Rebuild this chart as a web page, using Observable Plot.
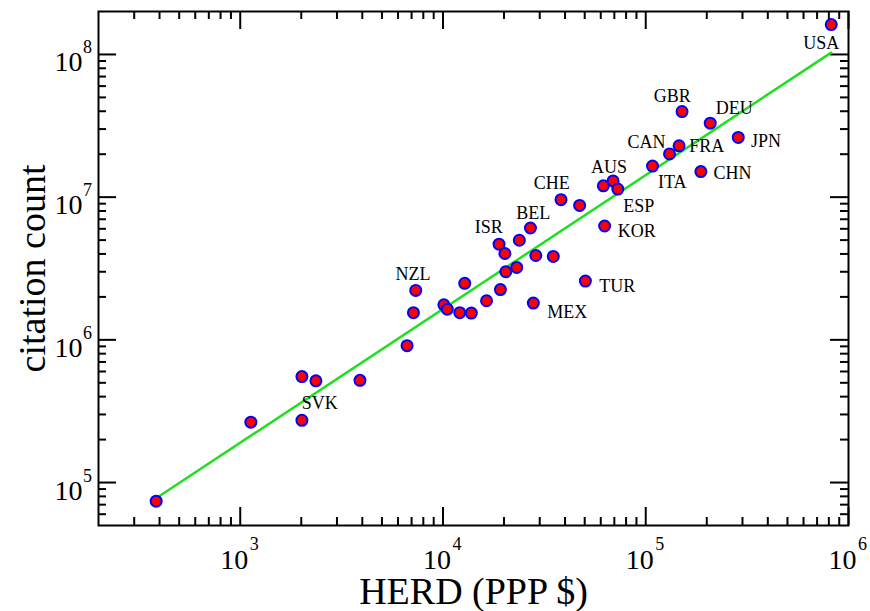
<!DOCTYPE html>
<html>
<head>
<meta charset="utf-8">
<script src="https://cdn.jsdelivr.net/npm/d3@7"></script>
<script src="https://cdn.jsdelivr.net/npm/@observablehq/plot@0.6"></script>
<style>
  html, body { margin: 0; padding: 0; background: #fff; }
  svg { font-family: "Liberation Serif", "Times New Roman", serif; }
</style>
</head>
<body>
<div id="chart"></div>
<script>
// HERD (PPP $) and citation counts, one entry per country
const herd = [385, 1128, 2015, 2015, 2362, 3896, 6650, 7150, 7340, 10100,
  10500, 12100, 13800, 12800, 16400, 19200, 20400, 23100, 20200, 18900,
  23800, 27000, 28700, 35000, 27900, 50400, 38200, 47200, 61800, 69000,
  72800, 62700, 108000, 131000, 146000, 151000, 208000, 286000, 187000, 822000];
const citations = [7.4e4, 2.65e5, 2.73e5, 5.53e5, 5.16e5, 5.2e5, 9.1e5, 1.55e6, 2.22e6, 1.76e6,
  1.64e6, 1.55e6, 1.54e6, 2.49e6, 1.88e6, 2.25e6, 3.0e6, 3.22e6, 4.03e6, 4.68e6,
  4.99e6, 6.08e6, 3.9e6, 3.84e6, 1.81e6, 2.58e6, 9.6e6, 8.75e6, 1.2e7, 1.3e7,
  1.14e7, 6.28e6, 1.65e7, 2.01e7, 2.29e7, 3.98e7, 3.3e7, 2.62e7, 1.51e7, 1.62e8];

// country labels (placed at data coordinates)
const labelNames = ["USA", "GBR", "DEU", "JPN", "FRA", "CAN", "ITA", "CHN", "AUS", "ESP",
  "CHE", "KOR", "BEL", "ISR", "TUR", "MEX", "NZL", "SVK"];
const labelHerd = [7.34e5, 1.35e5, 2.73e5, 3.92e5, 2.0e5, 1.01e5, 1.35e5, 2.68e5, 6.59e4, 9.23e4,
  3.44e4, 9.03e4, 2.79e4, 1.68e4, 7.24e4, 4.1e4, 7.12e3, 2.47e3];
const labelCites = [1.2e8, 5.12e7, 4.2e7, 2.46e7, 2.27e7, 2.42e7, 1.27e7, 1.48e7, 1.62e7, 8.65e6,
  1.26e7, 5.79e6, 7.66e6, 6.15e6, 2.39e6, 1.56e6, 2.89e6, 3.62e5];

// power-law fit line end points
const fitHerd = [385, 822000];
const fitCites = [7.76e4, 1.03e8];

// axis tick values
const xDomain = [200, 1e6];
const yDomain = [5e4, 2e8];
const xMajor = [1e3, 1e4, 1e5, 1e6];
const yMajor = [1e5, 1e6, 1e7, 1e8];
const xExp = ["3", "4", "5", "6"];
const yExp = ["5", "6", "7", "8"];

function minors(lo, hi) {
  const out = [];
  for (let e = Math.floor(Math.log10(lo)); e <= Math.ceil(Math.log10(hi)); e++) {
    for (let m = 2; m <= 9; m++) {
      const v = m * Math.pow(10, e);
      if (v > lo && v < hi) out.push(v);
    }
  }
  return out;
}
const xMinor = minors(xDomain[0], xDomain[1]);
const yMinor = minors(yDomain[0], yDomain[1]);

const points = herd.map((h, i) => ({h, c: citations[i]}));
const labels = labelNames.map((n, i) => ({n, h: labelHerd[i], c: labelCites[i]}));
const fit = fitHerd.map((h, i) => ({h, c: fitCites[i]}));

const W = 870, H = 611;
const mL = 98, mR = 22, mT = 11, mB = 86;
const fw = W - mL - mR, fh = H - mT - mB;
const MAJ = 18, MIN = 8;
const tickStyle = {stroke: "black", strokeWidth: 2};
const serif = "'Liberation Serif', 'Times New Roman', serif";

const chart = Plot.plot({
  width: W, height: H,
  marginLeft: mL, marginRight: mR, marginTop: mT, marginBottom: mB,
  x: {type: "log", domain: xDomain, axis: null},
  y: {type: "log", domain: yDomain, axis: null},
  style: {fontFamily: serif, background: "white"},
  marks: [
    // ticks (inward, mirrored on all sides)
    Plot.ruleX(xMajor, {x: d => d, insetTop: fh - MAJ, ...tickStyle}),
    Plot.ruleX(xMajor, {x: d => d, insetBottom: fh - MAJ, ...tickStyle}),
    Plot.ruleX(xMinor, {x: d => d, insetTop: fh - MIN, ...tickStyle}),
    Plot.ruleX(xMinor, {x: d => d, insetBottom: fh - MIN, ...tickStyle}),
    Plot.ruleY(yMajor, {y: d => d, insetRight: fw - MAJ, ...tickStyle}),
    Plot.ruleY(yMajor, {y: d => d, insetLeft: fw - MAJ, ...tickStyle}),
    Plot.ruleY(yMinor, {y: d => d, insetRight: fw - MIN, ...tickStyle}),
    Plot.ruleY(yMinor, {y: d => d, insetLeft: fw - MIN, ...tickStyle}),
    Plot.frame({stroke: "black", strokeWidth: 2}),
    // tick labels
    Plot.text(xMajor, {x: d => d, frameAnchor: "bottom", text: () => "10", lineAnchor: "bottom",
      textAnchor: "middle", dy: 43, dx: -6, fontSize: 28, fill: "black"}),
    Plot.text(xMajor, {x: d => d, frameAnchor: "bottom", text: (d, i) => xExp[i], lineAnchor: "bottom",
      textAnchor: "middle", dy: 24, dx: 14, fontSize: 18, fill: "black"}),
    Plot.text(yMajor, {y: d => d, frameAnchor: "left", text: () => "10", lineAnchor: "bottom",
      textAnchor: "end", dx: -16, dy: 17, fontSize: 28, fill: "black"}),
    Plot.text(yMajor, {y: d => d, frameAnchor: "left", text: (d, i) => yExp[i], lineAnchor: "bottom",
      textAnchor: "start", dx: -15.5, dy: -1, fontSize: 18, fill: "black"}),
    // axis titles
    Plot.text(["HERD (PPP $)"], {frameAnchor: "bottom", text: d => d, lineAnchor: "bottom",
      textAnchor: "middle", dy: 78, fontSize: 38, fill: "black"}),
    Plot.text(["citation count"], {frameAnchor: "left", text: d => d, lineAnchor: "bottom",
      textAnchor: "middle", rotate: -90, dx: -54, fontSize: 38, fill: "black"}),
    // fit line
    Plot.line(fit, {x: "h", y: "c", stroke: "#1ee01e", strokeWidth: 2.5}),
    // data points
    Plot.dot(points, {x: "h", y: "c", r: 5.5, fill: "#ff0000", stroke: "#0000ff", strokeWidth: 2}),
    // country labels
    Plot.text(labels, {x: "h", y: "c", text: "n", fontSize: 18, fill: "black"})
  ]
});
document.getElementById("chart").appendChild(chart);
</script>
</body>
</html>
